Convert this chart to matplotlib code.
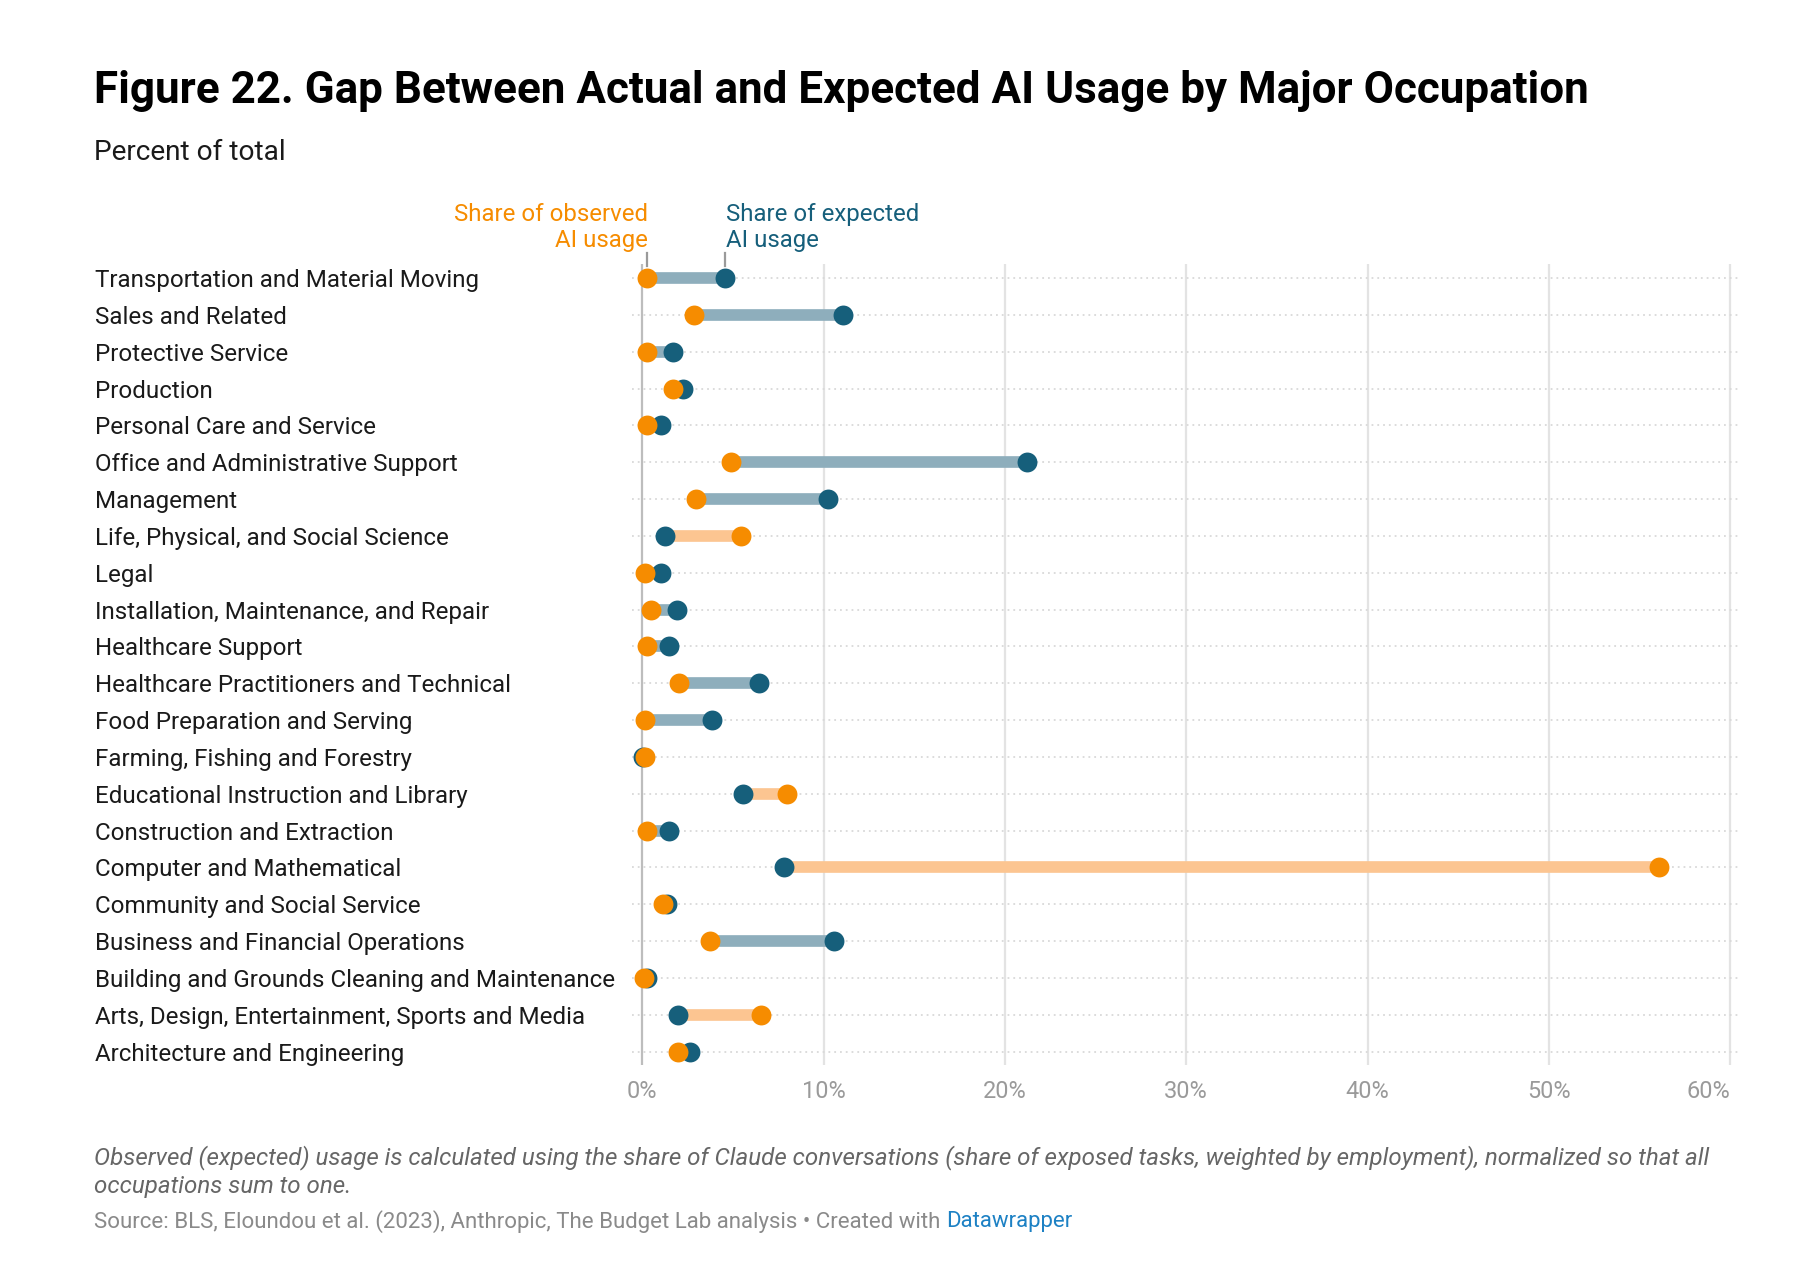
import matplotlib
matplotlib.use("Agg")
import matplotlib.pyplot as plt
import matplotlib.transforms as mtransforms

categories = [
    "Transportation and Material Moving",
    "Sales and Related",
    "Protective Service",
    "Production",
    "Personal Care and Service",
    "Office and Administrative Support",
    "Management",
    "Life, Physical, and Social Science",
    "Legal",
    "Installation, Maintenance, and Repair",
    "Healthcare Support",
    "Healthcare Practitioners and Technical",
    "Food Preparation and Serving",
    "Farming, Fishing and Forestry",
    "Educational Instruction and Library",
    "Construction and Extraction",
    "Computer and Mathematical",
    "Community and Social Service",
    "Business and Financial Operations",
    "Building and Grounds Cleaning and Maintenance",
    "Arts, Design, Entertainment, Sports and Media",
    "Architecture and Engineering",
]
observed = [0.28, 2.88, 0.24, 1.71, 0.24, 4.87, 2.94, 5.42, 0.13, 0.46, 0.24,
            2.0, 0.17, 0.17, 7.96, 0.24, 56.1, 1.12, 3.75, 0.07, 6.53, 1.95]
expected = [4.54, 11.05, 1.67, 2.23, 1.06, 21.2, 10.22, 1.23, 1.06, 1.9, 1.45,
            6.42, 3.82, 0.04, 5.53, 1.5, 7.79, 1.34, 10.6, 0.28, 1.95, 2.61]
xticks = [0, 10, 20, 30, 40, 50, 60]
xtick_labels = ["0%", "10%", "20%", "30%", "40%", "50%", "60%"]

ORANGE = "#f68c00"
BLUE = "#165f7b"
ORANGE_BAR = "#fcc591"
BLUE_BAR = "#8eaebc"

W, H = 1810, 1286
plt.rcParams['font.family'] = ['Roboto', 'DejaVu Sans']
fig = plt.figure(figsize=(W / 100, H / 100), dpi=100)
fig.patch.set_facecolor("white")


def fx(x):
    return x / W


def fy(y):
    return 1 - y / H


ax_left, ax_right, ax_top, ax_bot = 632.3, 1741, 264, 1065
ax = fig.add_axes([fx(ax_left), fy(ax_bot), (ax_right - ax_left) / W, (ax_bot - ax_top) / H])
n = len(categories)
ax.set_xlim(-0.55, 60.6)
ax.set_ylim(21.361, -0.38)
for s in ax.spines.values():
    s.set_visible(False)

# grid
for t in xticks:
    ax.axvline(t, color="#bdbdbd" if t == 0 else "#e3e3e3", lw=1.6, zorder=0)
for i in range(n):
    ax.axhline(i, color="#d9d9d9", lw=1.3, ls=(0, (1, 2.2)), zorder=0)

for i in range(n):
    o, e = observed[i], expected[i]
    col = BLUE_BAR if e >= o else ORANGE_BAR
    ax.plot([min(o, e), max(o, e)], [i, i], color=col, lw=8.4, solid_capstyle="butt", zorder=2)

ys = list(range(n))
ax.scatter(expected, ys, s=205, color=BLUE, zorder=3, linewidths=0)
ax.scatter(observed, ys, s=205, color=ORANGE, zorder=4, linewidths=0)

ax.set_xticks([])
ax.set_yticks([])
trx = mtransforms.blended_transform_factory(ax.transData, fig.transFigure)
for t, lab in zip(xticks, xtick_labels):
    ax.text(t, fy(1092), lab, transform=trx, ha="right" if t == xticks[-1] else "center",
            va="center", fontsize=16.9, color="#9a9a9a", clip_on=False)

# category labels
tr = mtransforms.blended_transform_factory(fig.transFigure, ax.transData)
shift = mtransforms.ScaledTranslation(0, -2.5 / 100, fig.dpi_scale_trans)
for i, c in enumerate(categories):
    ax.text(fx(95), i, c, transform=tr + shift, ha="left", va="center", fontsize=17.4,
            color="#1a1a1a", clip_on=False)

# legend annotations
fig.text(fx(648), fy(227.5), "Share of observed\nAI usage", ha="right", va="center",
         fontsize=17.3, color=ORANGE, linespacing=1.2)
fig.text(fx(726), fy(227.5), "Share of expected\nAI usage", ha="left", va="center",
         fontsize=17.3, color=BLUE, linespacing=1.2)
for xv in (observed[0], expected[0]):
    ax.plot([xv, xv], [fy(253), fy(266)], transform=trx, color="#9a9a9a", lw=1.6,
            clip_on=False, zorder=5)

# titles
fig.text(fx(94), fy(91), "Figure 22. Gap Between Actual and Expected AI Usage by Major Occupation",
         ha="left", va="center", fontsize=31.7, fontweight="bold", color="#000000")
fig.text(fx(94), fy(153), "Percent of total", ha="left", va="center", fontsize=20.2, color="#1a1a1a")

# footnotes
fig.text(fx(94), fy(1158), "Observed (expected) usage is calculated using the share of Claude conversations "
         "(share of exposed tasks, weighted by employment), normalized so that all",
         ha="left", va="center", fontsize=17.4, style="italic", color="#666666")
fig.text(fx(94), fy(1186), "occupations sum to one.", ha="left", va="center", fontsize=17.4,
         style="italic", color="#666666")
src = fig.text(fx(94), fy(1222), "Source: BLS, Eloundou et al. (2023), Anthropic, The Budget Lab analysis \u2022 Created with ",
               ha="left", va="center", fontsize=16, color="#8a8a8a")
renderer = fig.canvas.get_renderer()
bb = src.get_window_extent(renderer=renderer)
fig.text(bb.x1 / W, fy(1222), "Datawrapper", ha="left", va="center", fontsize=16, color="#1d81c4")

fig.savefig("out.png", dpi=100, facecolor="white")
